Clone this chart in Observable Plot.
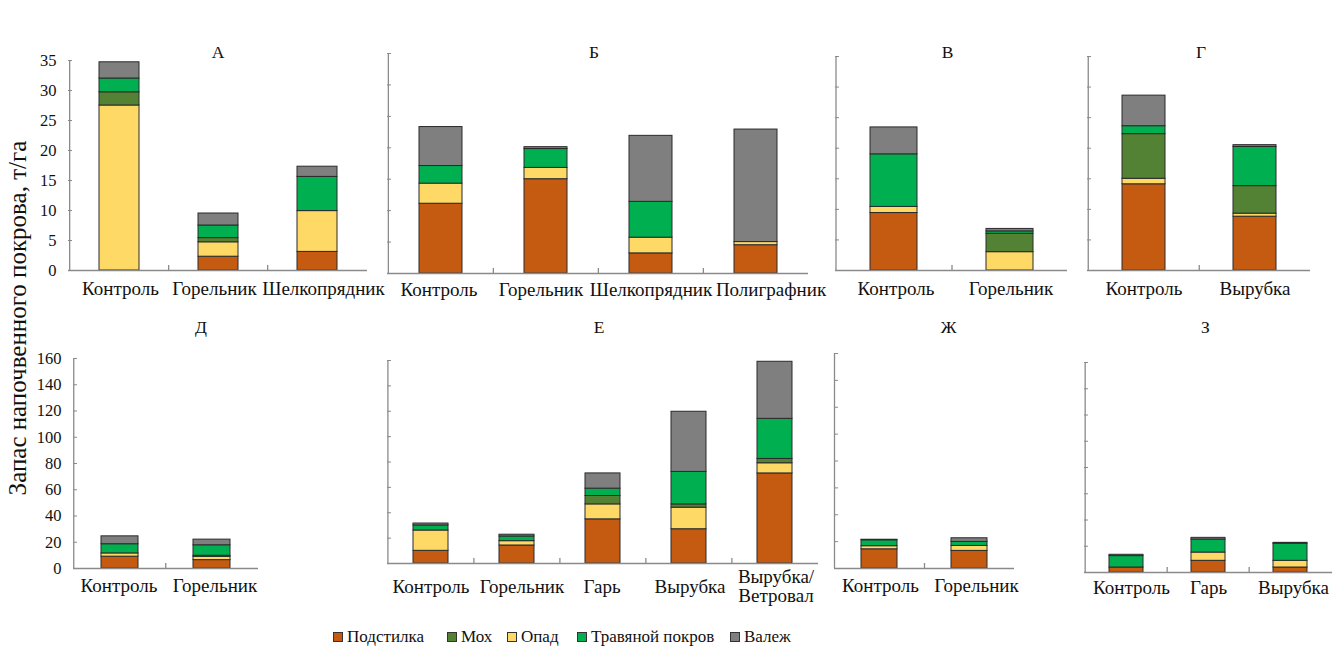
<!DOCTYPE html>
<html>
<head>
<meta charset="utf-8">
<script src="https://cdn.jsdelivr.net/npm/d3@7"></script>
<script src="https://cdn.jsdelivr.net/npm/@observablehq/plot@0.6"></script>
<style>
  html, body { margin: 0; padding: 0; background: #fff; }
  #root { position: relative; width: 1341px; height: 646px; overflow: hidden; font-family: 'Liberation Serif', 'Times New Roman', serif; color: #111; }
  .panel { position: absolute; }
  #ytitle { position: absolute; left: 18px; top: 318px; transform: translate(-50%, -50%) rotate(-90deg); white-space: nowrap; font-size: 25px; }
  .leg { position: absolute; top: 627px; font-size: 17px; display: flex; align-items: center; white-space: nowrap; }
  .sw { width: 8px; height: 8px; border: 1px solid #333; margin-right: 4px; display: inline-block; }
</style>
</head>
<body>
<div id="root">
  <div id="ytitle">Запас напочвенного покрова, т/га</div>
</div>
<script>
// Stack order (bottom to top)
const parts = ["Подстилка", "Опад", "Мох", "Травяной покров", "Валеж"];
const partColors = ["#C55A11", "#FFD966", "#548235", "#00B050", "#7F7F7F"];
const legendOrder = ["Подстилка", "Мох", "Опад", "Травяной покров", "Валеж"];

// Panel titles
const titles = ["А", "Б", "В", "Г", "Д", "Е", "Ж", "З"];

// Categories
const catsA = ["Контроль", "Горельник", "Шелкопрядник"];
const catsB = ["Контроль", "Горельник", "Шелкопрядник", "Полиграфник"];
const catsV = ["Контроль", "Горельник"];
const catsG = ["Контроль", "Вырубка"];
const catsD = ["Контроль", "Горельник"];
const catsE = ["Контроль", "Горельник", "Гарь", "Вырубка", "Вырубка/\nВетровал"];
const catsZh = ["Контроль", "Горельник"];
const catsZ = ["Контроль", "Гарь", "Вырубка"];

// Values, rows in order of `parts`: Подстилка, Опад, Мох, Травяной покров, Валеж
const valuesA = [[0, 2.3, 3.1], [27.5, 2.4, 6.8], [2.2, 0.7, 0], [2.3, 2.1, 5.7], [2.7, 2.0, 1.7]];
const valuesB = [[11.1, 15.0, 3.2, 4.5], [3.2, 1.8, 2.5, 0.5], [0, 0, 0, 0], [2.8, 3.0, 5.7, 0], [6.2, 0.3, 10.5, 17.9]];
const valuesV = [[9.4, 0], [1.0, 3.0], [0, 3.0], [8.6, 0.4], [4.4, 0.4]];
const valuesG = [[14.1, 8.8], [0.9, 0.5], [7.3, 4.5], [1.3, 6.4], [5.0, 0.3]];
const valuesD = [[9.0, 6.4], [2.5, 2.5], [0, 0.8], [7.0, 8.0], [6.0, 4.3]];
const valuesE = [[10, 14.2, 34.8, 27, 71], [16, 3.4, 11.8, 17, 8], [0, 0, 6.6, 2.6, 3.4], [4, 3.7, 5.8, 25.6, 31.6], [1.5, 1.4, 12, 47.4, 45]];
const valuesZh = [[14.3, 13.1], [2.3, 3.7], [0, 0], [4.4, 3.0], [0.4, 2.7]];
const valuesZ = [[3.8, 8.9, 3.8], [0, 6.3, 5.1], [0, 0, 0], [8.7, 9.9, 13.0], [1.0, 1.3, 0.7]];

// Y tick values
const ticksTop = [0, 5, 10, 15, 20, 25, 30, 35];
const ticksBottom = [0, 20, 40, 60, 80, 100, 120, 140, 160];

const axisColor = "#8a8a8a";
const fontStack = "'Liberation Serif', 'Times New Roman', serif";

const panels = [
  {title: titles[0], cats: catsA, values: valuesA, x0: 68, x1: 367, yTop: 60, y0: 270, ymax: 35, ticks: ticksTop, labels: true, titleY: 52, titleDx: 0, labelY: 288, labelDx: [1, -4, 6], bar: 40},
  {title: titles[1], cats: catsB, values: valuesB, x0: 387, x1: 808, yTop: 53, y0: 273, ymax: 35, ticks: ticksTop, labels: false, titleY: 52, titleDx: -4, labelY: 289, labelDx: [-2, -5, 0, 15], bar: 43},
  {title: titles[2], cats: catsV, values: valuesV, x0: 835, x1: 1067, yTop: 56, y0: 270, ymax: 35, ticks: ticksTop, labels: false, titleY: 52, titleDx: -4, labelY: 288, labelDx: [2, 1], bar: 47},
  {title: titles[3], cats: catsG, values: valuesG, x0: 1087, x1: 1310, yTop: 56, y0: 270, ymax: 35, ticks: ticksTop, labels: false, titleY: 52, titleDx: 2, labelY: 288, labelDx: [0, 0], bar: 43},
  {title: titles[4], cats: catsD, values: valuesD, x0: 73, x1: 258, yTop: 358, y0: 568, ymax: 160, ticks: ticksBottom, labels: true, titleY: 327, titleDx: 35, labelY: 585, labelDx: [-1, 3], bar: 37},
  {title: titles[5], cats: catsE, values: valuesE, x0: 387, x1: 818, yTop: 360, y0: 563, ymax: 160, ticks: ticksBottom, labels: false, titleY: 327, titleDx: -4, labelY: 586, labelDx: [0, 5, -1, 1, 1], bar: 35},
  {title: titles[6], cats: catsZh, values: valuesZh, x0: 834, x1: 1014, yTop: 353, y0: 568, ymax: 160, ticks: ticksBottom, labels: false, titleY: 327, titleDx: 24, labelY: 585, labelDx: [1, 7], bar: 36},
  {title: titles[7], cats: catsZ, values: valuesZ, x0: 1084, x1: 1332, yTop: 362, y0: 572, ymax: 160, ticks: ticksBottom, labels: false, titleY: 327, titleDx: -3, labelY: 587, labelDx: [5, 0, 3], bar: 34}
];

const root = document.getElementById("root");
const mL = 45, mR = 20, mT = 40, mB = 45;

panels.forEach(cfg => {
  const {cats, values, x0, x1, yTop, y0, ymax} = cfg;
  const w = x1 - x0, h = y0 - yTop;
  const step = w / cats.length;
  const pad = 1 - cfg.bar / step;
  const tickLen = ymax * 5 / h;
  const data = [];
  parts.forEach((p, j) => cats.forEach((c, i) => data.push({cat: c, part: p, value: values[j][i]})));
  const labelMarks = cats.map((c, i) =>
    Plot.text([c], {x: d => d, frameAnchor: "bottom", dy: cfg.labelY - y0, dx: cfg.labelDx[i], text: d => d, fontSize: 19, lineAnchor: "middle", fill: "#111"}));
  const chart = Plot.plot({
    width: w + mL + mR,
    height: h + mT + mB,
    marginLeft: mL, marginRight: mR, marginTop: mT, marginBottom: mB,
    x: {domain: cats, paddingInner: pad, paddingOuter: pad / 2, axis: null},
    y: {domain: [0, ymax], axis: null},
    color: {domain: parts, range: partColors},
    style: {fontFamily: fontStack, background: "transparent", overflow: "visible", color: "#111"},
    marks: [
      Plot.barY(data, {x: "cat", y: "value", fill: "part", order: parts, stroke: "#2a2a2a", strokeWidth: 1}),
      Plot.ruleY([0], {stroke: axisColor, strokeWidth: 1.3}),
      Plot.ruleX([cats[0]], {dx: -step / 2, y1: 0, y2: ymax, stroke: axisColor, strokeWidth: 1.3}),
      Plot.ruleX(cats.slice(1), {x: d => d, dx: -step / 2, y1: 0, y2: tickLen, stroke: axisColor, strokeWidth: 1.3}),
      Plot.axisY({ticks: cfg.ticks, tickSize: 4, dx: 4, tickPadding: 12, stroke: axisColor, fill: "#111", fontSize: 16.5, label: null,
        tickFormat: cfg.labels ? (d => String(d)) : (() => "")}),
      ...labelMarks,
      Plot.text([cfg.title], {frameAnchor: "top", dy: cfg.titleY - yTop, dx: cfg.titleDx, text: d => d, fontSize: 17.5, lineAnchor: "middle", fill: "#111"})
    ]
  });
  chart.classList.add("panel");
  chart.style.left = (x0 - mL) + "px";
  chart.style.top = (yTop - mT) + "px";
  chart.style.fontFamily = fontStack;
  root.appendChild(chart);
});

// Legend
const legendX = [333, 447, 507, 577, 730];
legendOrder.forEach((name, i) => {
  const item = document.createElement("div");
  item.className = "leg";
  item.style.left = legendX[i] + "px";
  const sw = document.createElement("span");
  sw.className = "sw";
  sw.style.background = partColors[parts.indexOf(name)];
  item.appendChild(sw);
  item.appendChild(document.createTextNode(name));
  root.appendChild(item);
});
</script>
</body>
</html>
